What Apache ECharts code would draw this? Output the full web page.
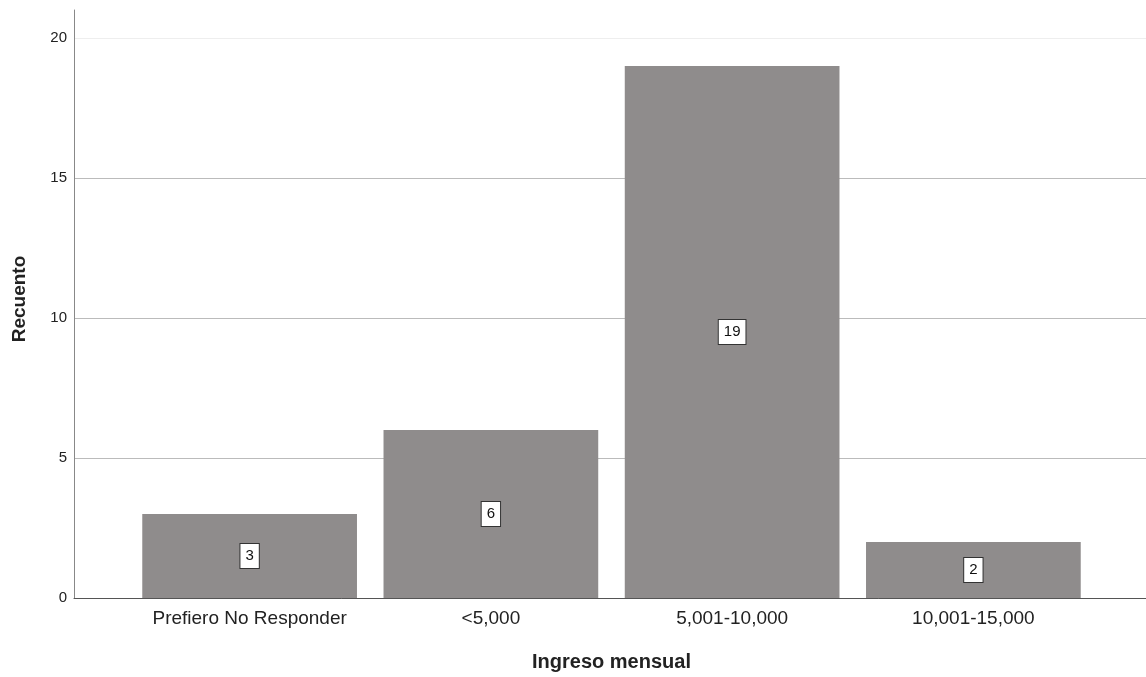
<!DOCTYPE html>
<html><head><meta charset="utf-8">
<script src="https://cdn.jsdelivr.net/npm/echarts@6/dist/echarts.min.js"></script>
<style>html,body{margin:0;padding:0;background:#fff}#c{width:1146px;height:677px}</style>
</head><body><div id="c"></div>
<script>
const categories = ["Prefiero No Responder", "<5,000", "5,001-10,000", "10,001-15,000"];
const counts = [3, 6, 19, 2];
const yTicks = [0, 5, 10, 15, 20];
const xTitle = "Ingreso mensual";
const yTitle = "Recuento";

const chart = echarts.init(document.getElementById('c'));
const font = 'Liberation Sans, Arial, sans-serif';
chart.setOption({
  animation: false,
  backgroundColor: '#fff',
  grid: [
    {left: 74, right: 0, top: 10, bottom: 79, containLabel: false, outerBoundsMode: 'none'},
    {left: 129, right: 52, top: 10, bottom: 79, containLabel: false, outerBoundsMode: 'none'}
  ],
  xAxis: [
    {gridIndex: 0, type: 'category', data: [''], axisLine: {show: true, lineStyle: {color: '#555', width: 1}},
     axisTick: {show: false}, axisLabel: {show: false}, splitLine: {show: false}, z: 5},
    {gridIndex: 1, type: 'category', data: categories, axisLine: {show: false}, axisTick: {show: false},
     axisLabel: {interval: 0, margin: 11, fontSize: 19, color: '#222', fontFamily: font},
     name: xTitle, nameLocation: 'middle', nameGap: 54,
     nameTextStyle: {fontSize: 20, fontWeight: 'bold', color: '#222', fontFamily: font}}
  ],
  yAxis: [
    {gridIndex: 0, type: 'value', min: 0, max: 21, interval: 5,
     axisLine: {show: true, lineStyle: {color: '#888'}}, axisTick: {show: false},
     axisLabel: {margin: 7, fontSize: 15, color: '#222', fontFamily: font,
       formatter: v => yTicks.includes(v) ? String(v) : ''},
     splitLine: {show: true, lineStyle: {color: ['#bbb', '#bbb', '#bbb', '#bbb', '#eee', 'rgba(0,0,0,0)'], width: 1}},
     name: yTitle, nameLocation: 'middle', nameGap: 45, nameRotate: 90,
     nameTextStyle: {fontSize: 19, fontWeight: 'bold', color: '#222', fontFamily: font, padding: [0, 0, 0, 10]}},
    {gridIndex: 1, type: 'value', min: 0, max: 21, interval: 5,
     axisLine: {show: false}, axisTick: {show: false}, axisLabel: {show: false}, splitLine: {show: false}}
  ],
  series: [{
    type: 'bar', xAxisIndex: 1, yAxisIndex: 1, data: counts,
    barCategoryGap: '11%',
    itemStyle: {color: '#8f8c8c'},
    label: {show: true, position: 'inside', color: '#111', fontSize: 15, fontFamily: font,
      backgroundColor: '#fff', borderColor: '#333', borderWidth: 1, padding: [5, 5, 4, 5]}
  }]
});
</script></body></html>
